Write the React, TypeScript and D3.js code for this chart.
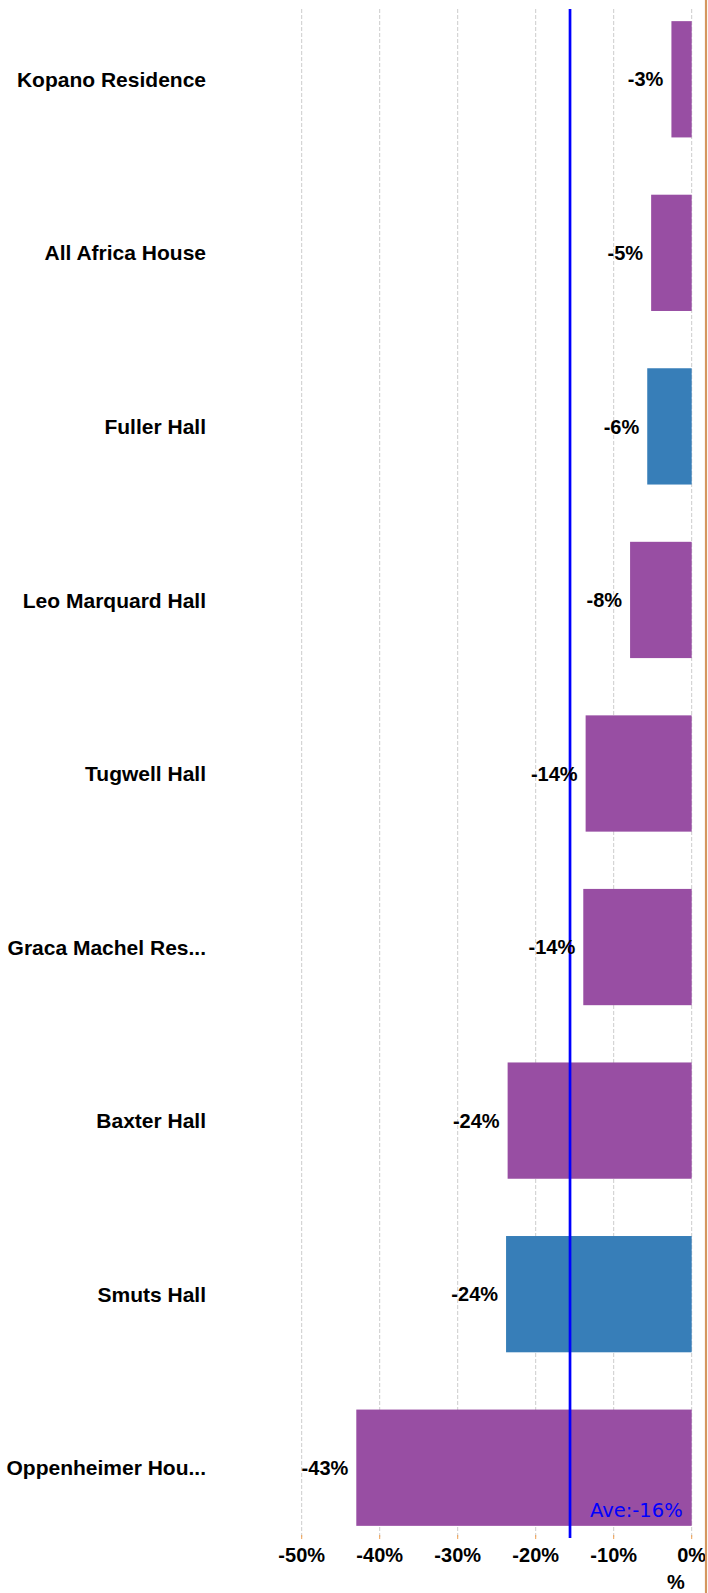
import React, { useEffect, useRef } from 'react';
import * as d3 from 'd3';

const residences = [
  'Kopano Residence',
  'All Africa House',
  'Fuller Hall',
  'Leo Marquard Hall',
  'Tugwell Hall',
  'Graca Machel Res...',
  'Baxter Hall',
  'Smuts Hall',
  'Oppenheimer Hou...',
];
const changePct = [-2.6, -5.2, -5.7, -7.9, -13.6, -13.9, -23.6, -23.8, -43.0];
const groupKey = ['p', 'p', 'b', 'p', 'p', 'p', 'p', 'b', 'p'];
const xTicks = [-50, -40, -30, -20, -10, 0];
const averagePct = -15.6;

const WIDTH = 708;
const HEIGHT = 1593;

const App = () => {
  const svgRef = useRef<SVGSVGElement>(null);

  useEffect(() => {
    const svg = d3.select(svgRef.current);
    svg.selectAll('*').remove();

    const top = 9;
    const bottom = 1538;

    const x = d3.scaleLinear().domain([-50, 0]).range([301.7, 691.7]);
    const y = d3.scaleBand<string>()
      .domain(residences)
      .range([top, bottom])
      .paddingInner(0.33)
      .paddingOuter(0.07);

    const color = (k: string) => (k === 'b' ? '#377eb8' : '#984ea3');

    // background
    svg.append('rect')
      .attr('width', WIDTH)
      .attr('height', HEIGHT)
      .attr('fill', '#ffffff');

    // gridlines
    svg.append('g')
      .selectAll('line')
      .data(xTicks)
      .join('line')
      .attr('x1', d => x(d))
      .attr('x2', d => x(d))
      .attr('y1', top)
      .attr('y2', bottom)
      .attr('stroke', '#cccccc')
      .attr('stroke-width', 1)
      .attr('stroke-dasharray', '4,2');

    // tiny orange ticks
    svg.append('g')
      .selectAll('line')
      .data(xTicks)
      .join('line')
      .attr('x1', d => x(d))
      .attr('x2', d => x(d))
      .attr('y1', bottom - 3)
      .attr('y2', bottom + 1)
      .attr('stroke', '#f0a050')
      .attr('stroke-width', 1);

    const rows = residences.map((name, i) => ({ name, value: changePct[i], group: groupKey[i] }));

    // bars
    svg.append('g')
      .selectAll('rect')
      .data(rows)
      .join('rect')
      .attr('x', d => x(d.value))
      .attr('y', d => y(d.name)!)
      .attr('width', d => x(0) - x(d.value))
      .attr('height', y.bandwidth())
      .attr('fill', d => color(d.group));

    // average line
    svg.append('line')
      .attr('x1', x(averagePct))
      .attr('x2', x(averagePct))
      .attr('y1', top)
      .attr('y2', bottom)
      .attr('stroke', '#0000ff')
      .attr('stroke-width', 2.7);

    svg.append('text')
      .attr('x', x(0) - 9)
      .attr('y', y(residences[residences.length - 1])! + y.bandwidth() - 9)
      .attr('text-anchor', 'end')
      .attr('font-family', 'Verdana, "DejaVu Sans", sans-serif')
      .attr('font-size', 19.5)
      .attr('fill', '#0000ff')
      .text(`Ave:${Math.round(averagePct)}%`);

    // value labels
    svg.append('g')
      .selectAll('text')
      .data(rows)
      .join('text')
      .attr('x', d => x(d.value) - 8)
      .attr('y', d => y(d.name)! + y.bandwidth() / 2)
      .attr('dy', '0.36em')
      .attr('text-anchor', 'end')
      .attr('font-family', 'Arial, "Liberation Sans", sans-serif')
      .attr('font-weight', 'bold')
      .attr('font-size', 20)
      .attr('fill', '#000')
      .text(d => `${Math.round(d.value)}%`);

    // category labels
    svg.append('g')
      .selectAll('text')
      .data(rows)
      .join('text')
      .attr('x', 206)
      .attr('y', d => y(d.name)! + y.bandwidth() / 2)
      .attr('dy', '0.36em')
      .attr('text-anchor', 'end')
      .attr('font-family', 'Arial, "Liberation Sans", sans-serif')
      .attr('font-weight', 'bold')
      .attr('font-size', 21)
      .attr('fill', '#000')
      .text(d => d.name);

    // x tick labels
    svg.append('g')
      .selectAll('text')
      .data(xTicks)
      .join('text')
      .attr('x', d => x(d))
      .attr('y', 1562)
      .attr('text-anchor', 'middle')
      .attr('font-family', 'Arial, "Liberation Sans", sans-serif')
      .attr('font-weight', 'bold')
      .attr('font-size', 20)
      .attr('fill', '#000')
      .text(d => `${d}%`);

    svg.append('text')
      .attr('x', 676)
      .attr('y', 1589)
      .attr('text-anchor', 'middle')
      .attr('font-family', 'Arial, "Liberation Sans", sans-serif')
      .attr('font-weight', 'bold')
      .attr('font-size', 20)
      .attr('fill', '#000')
      .text('%');

    // orange right border
    svg.append('line')
      .attr('x1', 706)
      .attr('x2', 706)
      .attr('y1', 0)
      .attr('y2', HEIGHT)
      .attr('stroke', '#d4975f')
      .attr('stroke-width', 2.2);
  }, []);

  return (
    <svg
      ref={svgRef}
      width={WIDTH}
      height={HEIGHT}
      style={{ position: 'absolute', left: 0, top: 0, display: 'block' }}
    />
  );
};

export default App;
